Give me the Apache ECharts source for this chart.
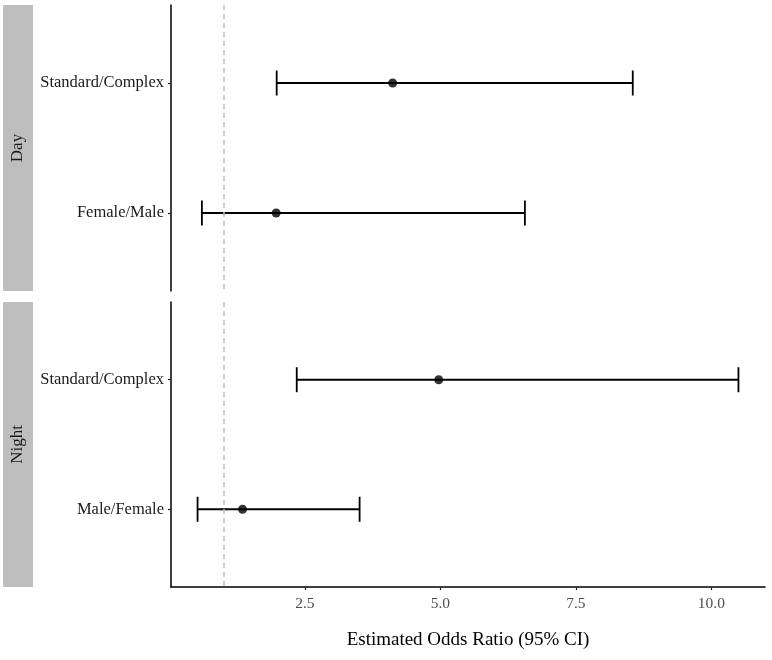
<!DOCTYPE html>
<html>
<head>
<meta charset="utf-8">
<script src="https://cdn.jsdelivr.net/npm/echarts@6/dist/echarts.min.js"></script>
<style>
  html, body { margin: 0; padding: 0; background: #fff; }
  #main { width: 772px; height: 660px; }
</style>
</head>
<body>
<div id="main"></div>
<script>
// panels (facets) and the rows inside each one
var panels = ['Day', 'Night'];
var dayLabels = ['Standard/Complex', 'Female/Male'];
var nightLabels = ['Standard/Complex', 'Male/Female'];

// odds ratios with 95% CI
var dayOR = [4.12, 1.97];
var dayLower = [1.98, 0.60];
var dayUpper = [8.55, 6.56];

var nightOR = [4.97, 1.35];
var nightLower = [2.35, 0.52];
var nightUpper = [10.50, 3.51];

var xTicks = [2.5, 5.0, 7.5, 10.0];
var refLine = 1;

var serif = "'Liberation Serif', 'DejaVu Serif', serif";

// layout
var gridLeft = 171, gridWidth = 594;
var panelTop = [5, 302], panelHeight = [286, 285];

var chart = echarts.init(document.getElementById('main'));

function errorBars(lo, hi) {
    return lo.map(function (v, i) { return [v, hi[i], i]; });
}
function points(or) {
    return or.map(function (v, i) { return [v, i]; });
}

function renderBar(params, api) {
    var y = api.value(2);
    var a = api.coord([api.value(0), y]);
    var b = api.coord([api.value(1), y]);
    var h = 12.5;
    var style = { stroke: '#000', lineWidth: 1.8 };
    return {
        type: 'group',
        children: [
            { type: 'line', shape: { x1: a[0], y1: a[1], x2: b[0], y2: b[1] }, style: style },
            { type: 'line', shape: { x1: a[0], y1: a[1] - h, x2: a[0], y2: a[1] + h }, style: style },
            { type: 'line', shape: { x1: b[0], y1: b[1] - h, x2: b[0], y2: b[1] + h }, style: style }
        ]
    };
}

function yAxisFor(idx, labels) {
    return {
        type: 'value', gridIndex: idx, min: -0.6, max: 1.6, inverse: true,
        axisLine: { show: true, lineStyle: { color: '#000', width: 1.5 } },
        axisTick: { show: true, length: 3, customValues: [0, 1], lineStyle: { color: '#222', width: 1.2 } },
        axisLabel: {
            customValues: [0, 1], color: '#1a1a1a', fontFamily: serif, fontSize: 16.5, margin: 7,
            formatter: function (v) { return labels[Math.round(v)]; }
        },
        splitLine: { show: false }
    };
}

function xAxisFor(idx, showAxis) {
    return {
        type: 'value', gridIndex: idx, min: 0.03, max: 10.99,
        axisLine: { show: showAxis, onZero: false, lineStyle: { color: '#000', width: 1.5 } },
        axisTick: { show: showAxis, length: 3, customValues: xTicks, lineStyle: { color: '#222', width: 1.2 } },
        axisLabel: {
            show: showAxis, customValues: xTicks, color: '#4d4d4d', fontFamily: serif, fontSize: 15.5, margin: 9,
            formatter: function (v) { return v.toFixed(1); }
        },
        splitLine: { show: false },
        name: showAxis ? 'Estimated Odds Ratio (95% CI)' : '',
        nameLocation: 'middle', nameGap: 44,
        nameTextStyle: { color: '#000', fontFamily: serif, fontSize: 19 }
    };
}

var refMark = {
    silent: true, symbol: 'none', label: { show: false },
    lineStyle: { color: '#bebebe', type: [5, 4], width: 1.5 },
    data: [{ xAxis: refLine }]
};

var strips = panels.map(function (p, i) {
    return {
        type: 'group', left: 3, top: panelTop[i],
        children: [
            { type: 'rect', shape: { x: 0, y: 0, width: 30, height: panelHeight[i] }, style: { fill: '#bebebe' } },
            {
                type: 'text', x: 15, y: panelHeight[i] / 2, rotation: Math.PI / 2,
                style: { text: p, fill: '#1a1a1a', font: '17px ' + serif, align: 'center', verticalAlign: 'middle' }
            }
        ]
    };
});

var option = {
    backgroundColor: '#fff',
    animation: false,
    graphic: strips,
    grid: [
        { left: gridLeft, width: gridWidth, top: panelTop[0], height: panelHeight[0] },
        { left: gridLeft, width: gridWidth, top: panelTop[1], height: panelHeight[1] }
    ],
    xAxis: [xAxisFor(0, false), xAxisFor(1, true)],
    yAxis: [yAxisFor(0, dayLabels), yAxisFor(1, nightLabels)],
    series: [
        {
            type: 'custom', xAxisIndex: 0, yAxisIndex: 0, renderItem: renderBar,
            encode: { x: [0, 1], y: 2 }, data: errorBars(dayLower, dayUpper), z: 3,
            markLine: refMark
        },
        {
            type: 'scatter', xAxisIndex: 0, yAxisIndex: 0, data: points(dayOR),
            symbolSize: 9, itemStyle: { color: '#000' }, z: 4
        },
        {
            type: 'custom', xAxisIndex: 1, yAxisIndex: 1, renderItem: renderBar,
            encode: { x: [0, 1], y: 2 }, data: errorBars(nightLower, nightUpper), z: 3,
            markLine: refMark
        },
        {
            type: 'scatter', xAxisIndex: 1, yAxisIndex: 1, data: points(nightOR),
            symbolSize: 9, itemStyle: { color: '#000' }, z: 4
        }
    ]
};

chart.setOption(option);
</script>
</body>
</html>
